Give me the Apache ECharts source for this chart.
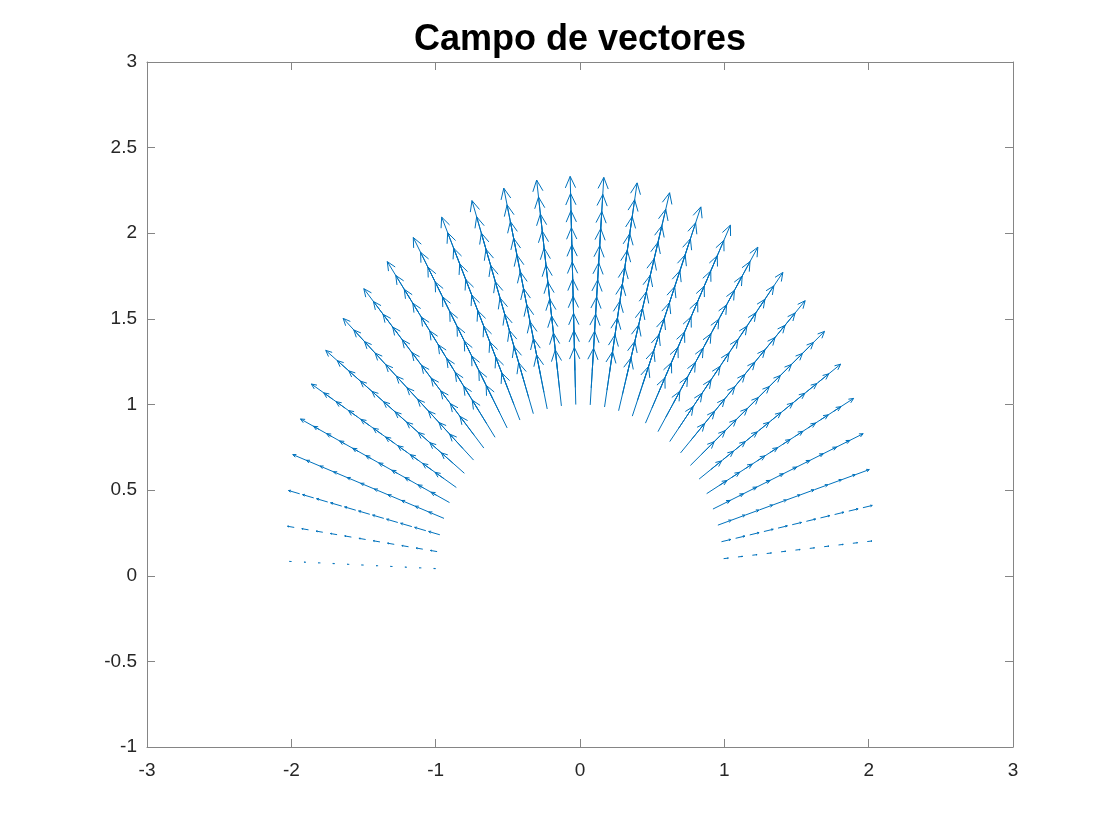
<!DOCTYPE html>
<html>
<head>
<meta charset="utf-8">
<title>Campo de vectores</title>
<script src="https://cdn.jsdelivr.net/npm/echarts@6/dist/echarts.min.js"></script>
<style>
  html, body { margin: 0; padding: 0; background: #ffffff; }
  #main { width: 1120px; height: 840px; }
</style>
</head>
<body>
<div id="main"></div>
<script>
// polar grid of the field (angle in rad, radius)
var angles = [0.1, 0.2, 0.3, 0.4, 0.5, 0.6, 0.7, 0.8, 0.9, 1.0,
              1.1, 1.2, 1.3, 1.4, 1.5, 1.6, 1.7, 1.8, 1.9, 2.0,
              2.1, 2.2, 2.3, 2.4, 2.5, 2.6, 2.7, 2.8, 2.9, 3.0, 3.1];
var radii = [1.0, 1.1, 1.2, 1.3, 1.4, 1.5, 1.6, 1.7, 1.8, 1.9, 2.0];
// drawn arrow length along each ray (data units)
var arrowLen = [0.033, 0.066, 0.098, 0.130, 0.160, 0.188, 0.215, 0.239, 0.261, 0.280,
                0.297, 0.311, 0.321, 0.328, 0.332, 0.333, 0.330, 0.324, 0.315, 0.303,
                0.288, 0.269, 0.248, 0.225, 0.199, 0.172, 0.142, 0.112, 0.080, 0.047, 0.014];
var xTicks = [-3, -2, -1, 0, 1, 2, 3];
var yTicks = [-1, -0.5, 0, 0.5, 1, 1.5, 2, 2.5, 3];

var arrowColor = '#0072bd';
var boxColor = '#858585';
var labelColor = '#262626';
var fontName = '"Liberation Sans", Arial, Helvetica, sans-serif';

// [x, y, u, v] para cada flecha
var field = [];
for (var i = 0; i < angles.length; i++) {
    var c = Math.cos(angles[i]);
    var s = Math.sin(angles[i]);
    for (var j = 0; j < radii.length; j++) {
        field.push([radii[j] * c, radii[j] * s, arrowLen[i] * c, arrowLen[i] * s]);
    }
}

function drawArrow(params, api) {
    var x = api.value(0), y = api.value(1);
    var p0 = api.coord([x, y]);
    var p1 = api.coord([x + api.value(2), y + api.value(3)]);
    var dx = p1[0] - p0[0];
    var dy = p1[1] - p0[1];
    var len = Math.sqrt(dx * dx + dy * dy);
    if (len < 0.01) {
        return null;
    }
    var ux = dx / len, uy = dy / len;
    var hl = 0.2 * len; // largo de la punta
    var hw = 0.09 * len; // medio ancho de la punta
    var bx = p1[0] - ux * hl;
    var by = p1[1] - uy * hl;
    return {
        type: 'group',
        children: [{
            type: 'line',
            shape: { x1: p0[0], y1: p0[1], x2: p1[0], y2: p1[1] },
            style: { stroke: arrowColor, lineWidth: 1 }
        }, {
            type: 'polyline',
            shape: { points: [[bx - uy * hw, by + ux * hw], p1, [bx + uy * hw, by - ux * hw]] },
            style: { stroke: arrowColor, fill: null, lineWidth: 1 }
        }]
    };
}

function makeAxis(dim, pos, min, max, step, showLabel) {
    return {
        type: 'value',
        position: pos,
        min: min,
        max: max,
        interval: step,
        axisLine: { show: true, onZero: false, lineStyle: { color: boxColor, width: 1 } },
        axisTick: { show: true, inside: true, length: 8, lineStyle: { color: boxColor, width: 1 } },
        splitLine: { show: false },
        axisLabel: {
            show: showLabel,
            color: labelColor,
            fontSize: 19,
            fontFamily: fontName,
            margin: dim === 'x' ? 14 : 10
        }
    };
}

var chart = echarts.init(document.getElementById('main'));
var option = {
    backgroundColor: '#ffffff',
    animation: false,
    title: {
        text: 'Campo de vectores',
        left: 580,
        top: 22,
        padding: 0,
        textAlign: 'center',
        textStyle: { fontSize: 36, fontWeight: 'bold', color: '#000000', fontFamily: fontName }
    },
    grid: { left: 147, top: 62, width: 866, height: 685, containLabel: false },
    xAxis: [
        makeAxis('x', 'bottom', xTicks[0], xTicks[xTicks.length - 1], 1, true),
        makeAxis('x', 'top', xTicks[0], xTicks[xTicks.length - 1], 1, false)
    ],
    yAxis: [
        makeAxis('y', 'left', yTicks[0], yTicks[yTicks.length - 1], 0.5, true),
        makeAxis('y', 'right', yTicks[0], yTicks[yTicks.length - 1], 0.5, false)
    ],
    series: [{
        type: 'custom',
        name: 'campo',
        xAxisIndex: 0,
        yAxisIndex: 0,
        renderItem: drawArrow,
        encode: { x: 0, y: 1 },
        data: field
    }]
};
chart.setOption(option);
</script>
</body>
</html>
